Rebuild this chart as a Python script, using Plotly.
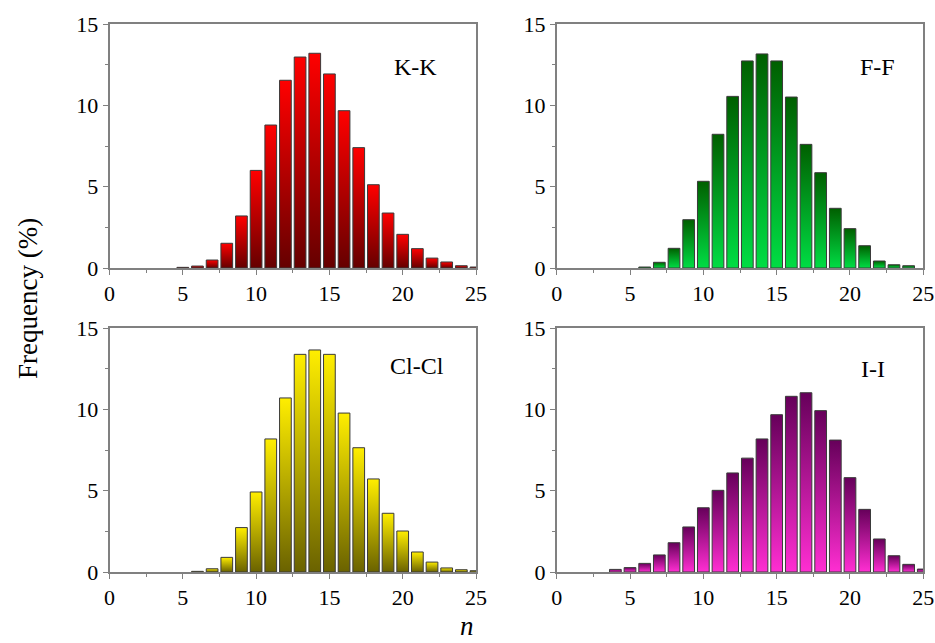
import plotly.graph_objects as go

# ---- data ----
kk_n = [5, 6, 7, 8, 9, 10, 11, 12, 13, 14, 15, 16, 17, 18, 19, 20, 21, 22, 23, 24, 25]
kk_freq = [0.04, 0.12, 0.49, 1.52, 3.2, 6.0, 8.79, 11.54, 12.97, 13.2, 11.93, 9.67,
           7.4, 5.12, 3.38, 2.07, 1.19, 0.61, 0.37, 0.14, 0.06]

ff_n = [6, 7, 8, 9, 10, 11, 12, 13, 14, 15, 16, 17, 18, 19, 20, 21, 22, 23, 24]
ff_freq = [0.06, 0.35, 1.21, 2.97, 5.33, 8.22, 10.55, 12.73, 13.16, 12.73, 10.51,
           7.6, 5.86, 3.67, 2.42, 1.37, 0.43, 0.2, 0.14]

clcl_n = [6, 7, 8, 9, 10, 11, 12, 13, 14, 15, 16, 17, 18, 19, 20, 21, 22, 23, 24, 25]
clcl_freq = [0.04, 0.2, 0.9, 2.73, 4.92, 8.18, 10.7, 13.38, 13.65, 13.38, 9.77, 7.64,
             5.72, 3.61, 2.52, 1.23, 0.61, 0.25, 0.14, 0.08]

ii_n = [4, 5, 6, 7, 8, 9, 10, 11, 12, 13, 14, 15, 16, 17, 18, 19, 20, 21, 22, 23, 24, 25]
ii_freq = [0.16, 0.27, 0.53, 1.05, 1.8, 2.77, 3.95, 5.02, 6.09, 7.0, 8.18, 9.67, 10.8,
           11.02, 9.92, 8.11, 5.8, 3.85, 2.03, 1.0, 0.47, 0.18]

panel_labels = ["K-K", "F-F", "Cl-Cl", "I-I"]
x_ticks = [0, 5, 10, 15, 20, 25]
y_ticks = [0, 5, 10, 15]

# ---- styling ----
FONT = "Liberation Serif"
BAR_HALF = 0.4
panels = [
    # (n, freq, axis suffix, bottom colour, top colour, label pos)
    (kk_n, kk_freq, "", "#650000", "#ff0000", (415 / 935, 1 - 67 / 643)),
    (ff_n, ff_freq, "2", "#00dd44", "#005f00", (877 / 935, 1 - 67 / 643)),
    (clcl_n, clcl_freq, "3", "#6a6200", "#ffee00", (417 / 935, 1 - 366 / 643)),
    (ii_n, ii_freq, "4", "#ff2ed2", "#66005a", (873 / 935, 1 - 369 / 643)),
]

fig = go.Figure()
for (ns, fs, ax, c_bot, c_top, _), label in zip(panels, panel_labels):
    for n, f in zip(ns, fs):
        fig.add_trace(go.Scatter(
            x=[n - BAR_HALF, n - BAR_HALF, n + BAR_HALF, n + BAR_HALF, n - BAR_HALF],
            y=[0, f, f, 0, 0],
            mode="lines",
            fill="toself",
            fillgradient=dict(type="vertical",
                              colorscale=[[0, c_bot], [1, c_top]]),
            line=dict(color="#3a3a3a", width=1),
            xaxis="x" + ax, yaxis="y" + ax,
            showlegend=False, hoverinfo="skip",
        ))

x_domains = [[109.5 / 935, 476 / 935], [556.7 / 935, 923.3 / 935]]
y_domains = [[(643 - 268) / 643, (643 - 24) / 643], [(643 - 572) / 643, (643 - 328) / 643]]

axis_common = dict(
    showline=True, linecolor="#808080", linewidth=1.5, mirror=True,
    ticks="outside", ticklen=5, tickwidth=1.2, tickcolor="#808080",
    showgrid=False, zeroline=False, automargin=False,
    tickfont=dict(family=FONT, size=22, color="black"),
)

layout = dict(
    template="none",
    width=935, height=643,
    margin=dict(l=0, r=0, t=0, b=0, autoexpand=False),
    paper_bgcolor="white", plot_bgcolor="white",
    font=dict(family=FONT, size=22, color="black"),
    showlegend=False,
)
for i, ax in enumerate(["", "2", "3", "4"]):
    xd = x_domains[i % 2]
    yd = y_domains[i // 2]
    layout["xaxis" + ax] = dict(
        axis_common, domain=xd, range=[0, 25], tickvals=x_ticks,
        minor=dict(dtick=2.5, ticks="outside", ticklen=3, tickcolor="#808080"),
        anchor="y" + ax,
    )
    layout["yaxis" + ax] = dict(
        axis_common, domain=yd, range=[0, 15], tickvals=y_ticks,
        minor=dict(dtick=2.5, ticks="outside", ticklen=3, tickcolor="#808080"),
        anchor="x" + ax,
    )
fig.update_layout(**layout)

annotations = []
for (ns, fs, ax, c_bot, c_top, pos), label in zip(panels, panel_labels):
    annotations.append(dict(
        text=label, x=pos[0], y=pos[1], xref="paper", yref="paper",
        showarrow=False, xanchor="center", yanchor="middle",
        font=dict(family=FONT, size=24, color="black"),
    ))
annotations.append(dict(
    text="Frequency (%)", x=28 / 935, y=1 - 299 / 643, xref="paper", yref="paper",
    showarrow=False, textangle=-90, xanchor="center", yanchor="middle",
    font=dict(family=FONT, size=27, color="black"),
))
annotations.append(dict(
    text="<i>n</i>", x=467 / 935, y=1 - 642 / 643, xref="paper", yref="paper",
    showarrow=False, xanchor="center", yanchor="bottom", borderpad=0,
    font=dict(family=FONT, size=27, color="black"),
))
fig.update_layout(annotations=annotations)

fig.write_html(
    "out.html",
    config={"displayModeBar": False},
    post_script="document.body.style.margin='0';document.body.style.overflow='hidden';",
)
